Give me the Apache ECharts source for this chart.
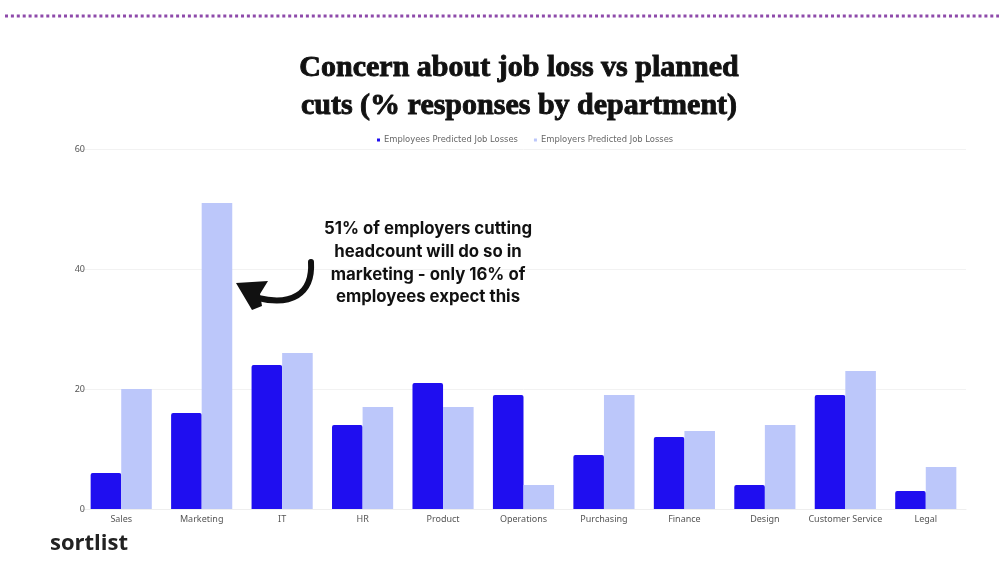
<!DOCTYPE html>
<html><head><meta charset="utf-8">
<script src="https://cdn.jsdelivr.net/npm/echarts@6/dist/echarts.min.js"></script>
<style>html,body{margin:0;padding:0;background:#fff}#c{width:999px;height:563px}</style>
</head><body><div id="c"></div>
<script>
const categories = ['Sales','Marketing','IT','HR','Product','Operations','Purchasing','Finance','Design','Customer Service','Legal'];
const employeesPredicted = [6,16,24,14,21,19,9,12,4,19,3];
const employersPredicted = [20,51,26,17,17,4,19,13,14,23,7];
const yTicks = [0,20,40,60];
const seriesNames = ['Employees Predicted Job Losses','Employers Predicted Job Losses'];

const chart = echarts.init(document.getElementById('c'), null, {renderer:'canvas'});
chart.setOption({
  animation:false,
  backgroundColor:'#ffffff',
  title:{
    text:'Concern about job loss vs planned\ncuts (% responses by department)',
    left:514, top:44, textAlign:'center',
    textStyle:{fontFamily:'Liberation Serif', fontWeight:'bold', fontSize:30, lineHeight:38, color:'#111',
      textBorderColor:'#111', textBorderWidth:0.9}
  },
  legend:{
    data:seriesNames, top:131, left:372, itemWidth:3, itemHeight:3, icon:'rect', itemGap:16,
    textStyle:{fontSize:8.4, color:'#666', fontFamily:'DejaVu Sans', padding:[0,0,0,-1]}
  },
  grid:{left:81, right:33, top:149, bottom:54},
  xAxis:{
    type:'category', data:categories,
    axisLine:{lineStyle:{color:'#eeeeee'}}, axisTick:{show:false},
    axisLabel:{fontSize:9, color:'#555', margin:6, fontFamily:'Noto Sans', interval:0}
  },
  yAxis:{
    type:'value', min:yTicks[0], max:yTicks[yTicks.length-1], interval:20,
    axisLine:{show:false}, axisTick:{show:false},
    axisLabel:{fontSize:9, color:'#555', margin:-4, fontFamily:'Noto Sans'},
    splitLine:{show:true, lineStyle:{color:'#f2f2f2'}}
  },
  series:[
    {name:seriesNames[0], type:'bar', data:employeesPredicted, barGap:'0%', barCategoryGap:'24%',
     itemStyle:{color:'#1f0ef0', borderRadius:[2,2,0,0]}},
    {name:seriesNames[1], type:'bar', data:employersPredicted,
     itemStyle:{color:'#bcc7fa'}}
  ]
});
chart.setOption({
  graphic:[
    {type:'line', shape:{x1:5,y1:16,x2:999,y2:16}, style:{stroke:'#8e4aaa', lineWidth:3, lineDash:[3,2.9]}},
    {type:'text', x:50, y:533, style:{text:'sortlist', font:'bold 22px "Open Sans"', fill:'#222'}},
    {type:'text', x:428, y:218, style:{text:'51% of employers cutting\nheadcount will do so in\nmarketing - only 16% of\nemployees expect this',
      font:'bold 16.8px Inter', fill:'#111', align:'center', lineHeight:22.7}},
    {type:'bezierCurve', shape:{x1:311,y1:262,cpx1:313,cpy1:295,cpx2:290,cpy2:306,x2:258,y2:298}, style:{stroke:'#111', lineWidth:6, fill:null, lineCap:'round'}},
    {type:'polygon', shape:{points:[[236,283],[268,281],[260,294],[262,306],[252,310]]}, style:{fill:'#111'}}
  ]
});
</script></body></html>
